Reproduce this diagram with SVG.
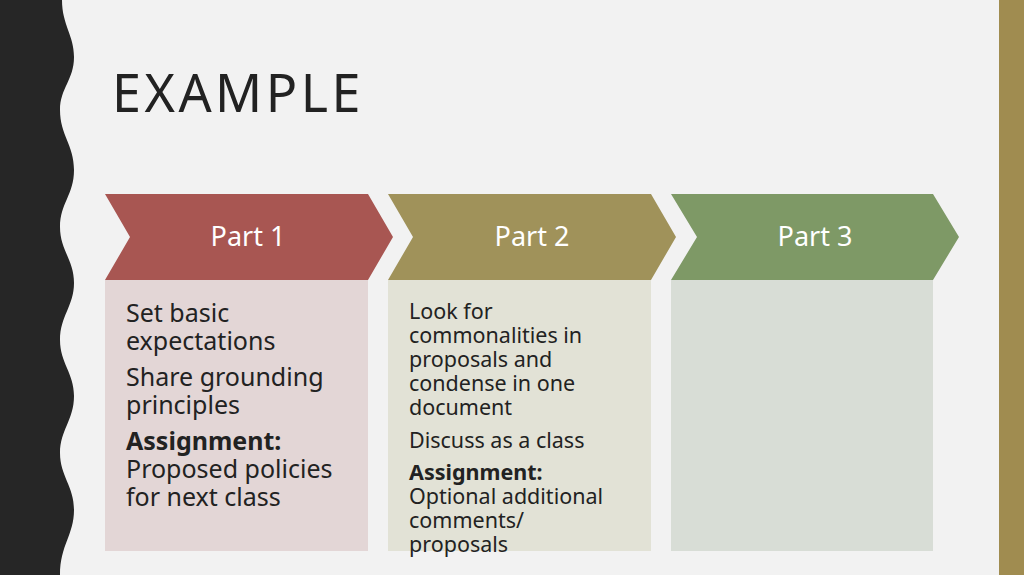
<svg xmlns="http://www.w3.org/2000/svg" width="1024" height="575" viewBox="0 0 1024 575">
<style>
text{font-family:"Noto Sans","Open Sans",sans-serif;fill:#222}
.h{fill:#fff;font-size:27px;text-anchor:middle}
.b1{font-size:25px}
.b2{font-size:21.5px}
.bold{font-weight:bold}
</style>
<rect width="1024" height="575" fill="#f2f2f2"/>
<path d="M0 0 H62 C62 25 74 35 74 57 C74 80 60 88 60 110 C60 135 74 145 74 170 C74 195 60 203 60 227 C60 250 74 260 74 283 C74 306 60 316 60 340 C60 363 74 373 74 396 C74 420 60 430 60 453 C60 476 74 486 74 510 C74 535 60 545 60 575 H0 Z" fill="#262626"/>
<rect x="999" y="0" width="25" height="575" fill="#a08c50"/>
<text x="112" y="112" font-size="52" letter-spacing="3.5">EXAMPLE</text>
<g id="part1">
<rect x="105" y="280" width="263" height="271" fill="#e3d6d6"/>
<polygon points="105,194 368,194 393,237 368,280 105,280 130,237" fill="#a85652"/>
<text class="h" x="248" y="246">Part 1</text>
<text class="b1" x="126" y="322">Set basic</text>
<text class="b1" x="126" y="350">expectations</text>
<text class="b1" x="126" y="386">Share grounding</text>
<text class="b1" x="126" y="414">principles</text>
<text class="b1 bold" x="126" y="450">Assignment:</text>
<text class="b1" x="126" y="478">Proposed policies</text>
<text class="b1" x="126" y="506">for next class</text>
</g>
<g id="part2">
<rect x="388" y="280" width="263" height="271" fill="#e2e2d6"/>
<polygon points="388,194 651,194 676,237 651,280 388,280 413,237" fill="#a0925a"/>
<text class="h" x="532" y="246">Part 2</text>
<text class="b2" x="409" y="319">Look for</text>
<text class="b2" x="409" y="343">commonalities in</text>
<text class="b2" x="409" y="367">proposals and</text>
<text class="b2" x="409" y="391">condense in one</text>
<text class="b2" x="409" y="415">document</text>
<text class="b2" x="409" y="448">Discuss as a class</text>
<text class="b2 bold" x="409" y="480">Assignment:</text>
<text class="b2" x="409" y="504">Optional additional</text>
<text class="b2" x="409" y="528">comments/</text>
<text class="b2" x="409" y="552">proposals</text>
</g>
<g id="part3">
<rect x="671" y="280" width="262" height="271" fill="#d8ddd6"/>
<polygon points="671,194 933,194 959,237 933,280 671,280 697,237" fill="#7e9966"/>
<text class="h" x="815" y="246">Part 3</text>
</g>
<g id="connectors"/>
</svg>
